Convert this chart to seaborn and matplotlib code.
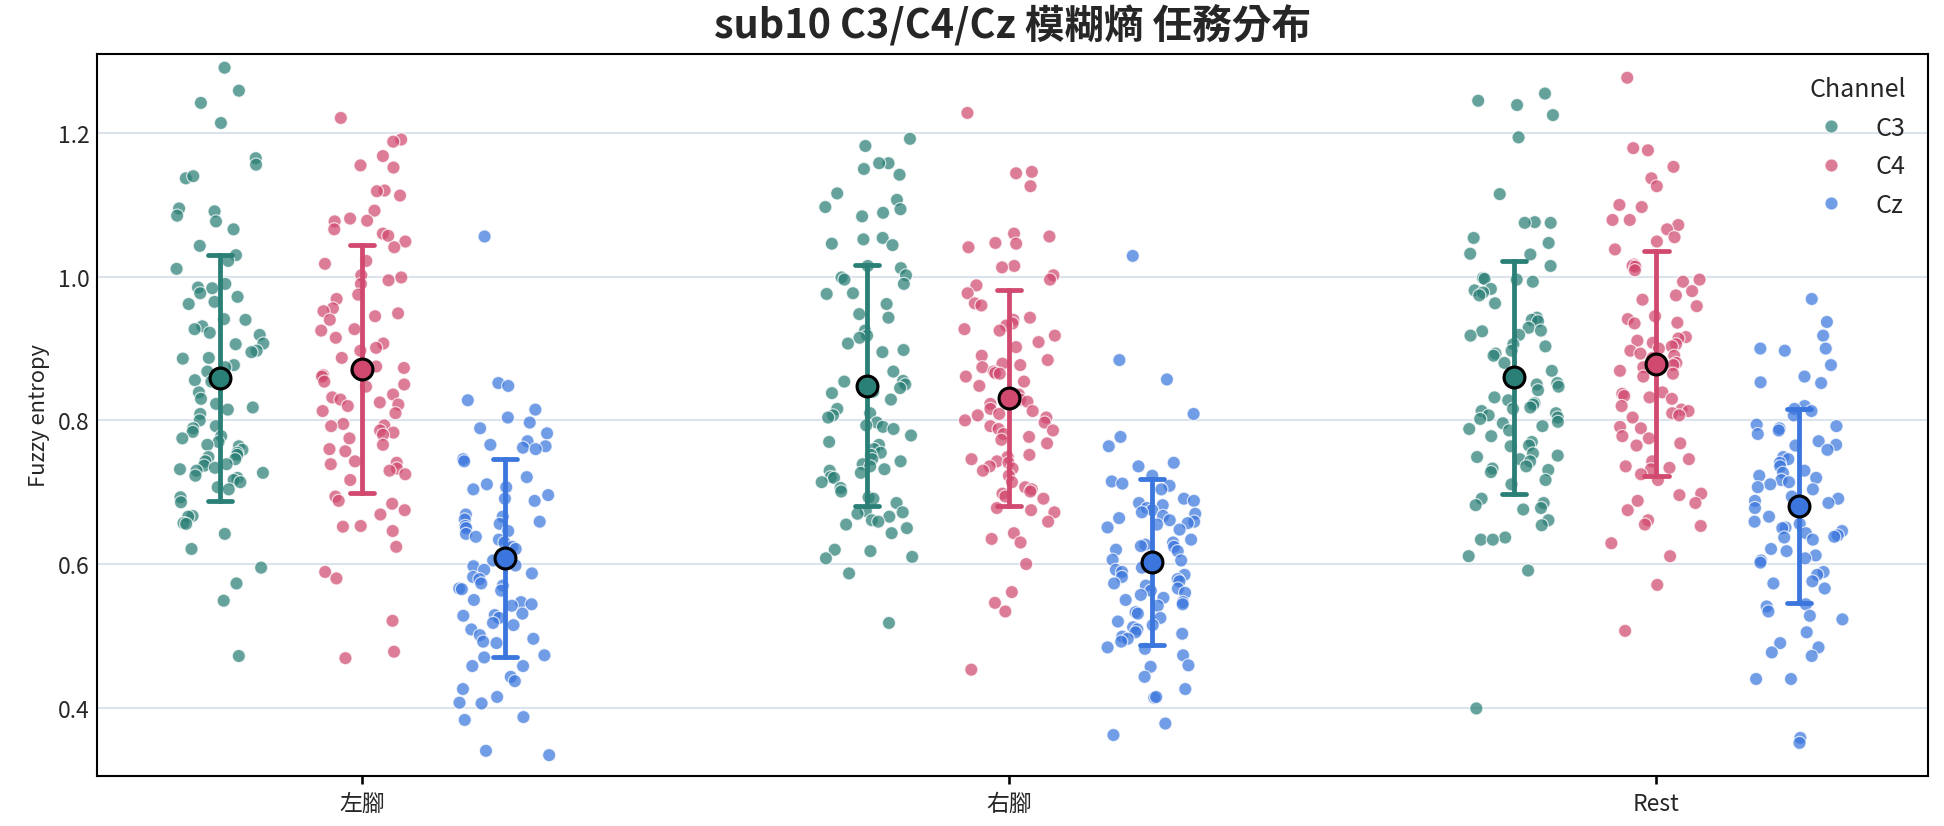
import numpy as np
import pandas as pd
import matplotlib
matplotlib.use("Agg")
import matplotlib.pyplot as plt
import seaborn as sns

# ---------------- data ----------------
tasks = ["左腳", "右腳", "Rest"]
channels = ["C3", "C4", "Cz"]

left_c3 = [1.291, 1.259, 1.242, 1.214, 1.165, 1.156, 1.137, 1.140, 1.095, 1.091, 1.085, 1.077, 1.066,
           1.043, 1.030, 1.022, 1.011, 0.990, 0.985, 0.984, 0.977, 0.972, 0.965, 0.962, 0.941, 0.940,
           0.931, 0.927, 0.922, 0.919, 0.907, 0.906, 0.897, 0.895, 0.887, 0.886, 0.877, 0.874, 0.868,
           0.856, 0.854, 0.852, 0.839, 0.830, 0.823, 0.818, 0.815, 0.809, 0.800, 0.792, 0.789, 0.784,
           0.778, 0.775, 0.770, 0.766, 0.764, 0.759, 0.755, 0.752, 0.749, 0.746, 0.743, 0.739, 0.737,
           0.734, 0.732, 0.730, 0.727, 0.723, 0.720, 0.717, 0.714, 0.707, 0.704, 0.693, 0.686, 0.667,
           0.666, 0.657, 0.656, 0.642, 0.621, 0.595, 0.573, 0.549, 0.472]
left_c4 = [1.221, 1.191, 1.188, 1.168, 1.155, 1.152, 1.120, 1.119, 1.113, 1.092, 1.081, 1.078, 1.077,
           1.066, 1.060, 1.057, 1.049, 1.041, 1.022, 1.018, 1.002, 0.999, 0.995, 0.990, 0.975, 0.969,
           0.956, 0.952, 0.949, 0.945, 0.940, 0.927, 0.925, 0.915, 0.907, 0.901, 0.897, 0.887, 0.875,
           0.873, 0.868, 0.863, 0.861, 0.854, 0.850, 0.847, 0.836, 0.832, 0.829, 0.825, 0.822, 0.820,
           0.813, 0.810, 0.795, 0.793, 0.792, 0.786, 0.783, 0.780, 0.775, 0.766, 0.760, 0.757, 0.743,
           0.741, 0.739, 0.733, 0.730, 0.725, 0.717, 0.694, 0.688, 0.684, 0.675, 0.669, 0.653, 0.652,
           0.646, 0.624, 0.589, 0.580, 0.521, 0.478, 0.469]
left_cz = [1.056, 0.852, 0.848, 0.828, 0.815, 0.804, 0.797, 0.789, 0.782, 0.771, 0.766, 0.764, 0.762,
           0.760, 0.746, 0.743, 0.721, 0.711, 0.707, 0.704, 0.696, 0.691, 0.688, 0.669, 0.666, 0.662,
           0.659, 0.656, 0.653, 0.650, 0.646, 0.642, 0.638, 0.634, 0.630, 0.624, 0.621, 0.605, 0.598,
           0.597, 0.592, 0.587, 0.582, 0.579, 0.573, 0.570, 0.566, 0.565, 0.563, 0.550, 0.547, 0.544,
           0.542, 0.531, 0.529, 0.528, 0.525, 0.518, 0.515, 0.509, 0.501, 0.496, 0.492, 0.490, 0.473,
           0.470, 0.458, 0.458, 0.443, 0.437, 0.426, 0.415, 0.407, 0.406, 0.387, 0.383, 0.340, 0.334]
right_c3 = [1.192, 1.182, 1.158, 1.158, 1.150, 1.142, 1.116, 1.107, 1.097, 1.094, 1.089, 1.084, 1.054,
            1.052, 1.044, 1.046, 1.015, 1.012, 1.002, 0.999, 0.996, 0.990, 0.977, 0.976, 0.962, 0.948,
            0.943, 0.925, 0.918, 0.915, 0.907, 0.898, 0.895, 0.868, 0.855, 0.854, 0.850, 0.845, 0.842,
            0.840, 0.838, 0.829, 0.816, 0.810, 0.807, 0.804, 0.797, 0.793, 0.791, 0.788, 0.779, 0.770,
            0.766, 0.760, 0.755, 0.752, 0.746, 0.743, 0.739, 0.736, 0.732, 0.730, 0.727, 0.721, 0.720,
            0.714, 0.706, 0.701, 0.693, 0.691, 0.685, 0.674, 0.672, 0.670, 0.666, 0.661, 0.659, 0.655,
            0.650, 0.643, 0.620, 0.618, 0.610, 0.608, 0.587, 0.518]
right_c4 = [1.228, 1.146, 1.144, 1.126, 1.060, 1.056, 1.047, 1.046, 1.041, 1.015, 1.013, 1.002, 0.996,
            0.988, 0.977, 0.963, 0.960, 0.943, 0.940, 0.935, 0.932, 0.927, 0.925, 0.918, 0.909, 0.902,
            0.890, 0.884, 0.879, 0.877, 0.874, 0.868, 0.866, 0.865, 0.861, 0.854, 0.848, 0.836, 0.829,
            0.826, 0.823, 0.816, 0.813, 0.809, 0.807, 0.804, 0.800, 0.797, 0.792, 0.788, 0.786, 0.781,
            0.777, 0.773, 0.768, 0.752, 0.749, 0.746, 0.743, 0.741, 0.736, 0.733, 0.730, 0.723, 0.714,
            0.707, 0.704, 0.701, 0.698, 0.694, 0.691, 0.678, 0.675, 0.672, 0.659, 0.643, 0.635, 0.630,
            0.600, 0.561, 0.546, 0.534, 0.453]
right_cz = [1.029, 0.884, 0.857, 0.809, 0.777, 0.764, 0.741, 0.736, 0.723, 0.715, 0.712, 0.709, 0.704,
            0.691, 0.688, 0.685, 0.682, 0.678, 0.675, 0.672, 0.670, 0.667, 0.664, 0.661, 0.659, 0.657,
            0.655, 0.651, 0.648, 0.634, 0.630, 0.627, 0.625, 0.624, 0.620, 0.618, 0.610, 0.606, 0.605,
            0.595, 0.592, 0.589, 0.585, 0.582, 0.579, 0.576, 0.573, 0.570, 0.566, 0.563, 0.560, 0.557,
            0.553, 0.550, 0.547, 0.544, 0.542, 0.533, 0.531, 0.525, 0.520, 0.515, 0.512, 0.509, 0.505,
            0.503, 0.499, 0.496, 0.492, 0.484, 0.482, 0.473, 0.459, 0.457, 0.443, 0.426, 0.414, 0.415,
            0.378, 0.362]
rest_c3 = [1.255, 1.245, 1.239, 1.225, 1.194, 1.115, 1.076, 1.075, 1.075, 1.054, 1.047, 1.032, 1.031,
           1.015, 0.998, 0.996, 0.993, 0.997, 0.983, 0.981, 0.978, 0.974, 0.963, 0.943, 0.940, 0.938,
           0.929, 0.925, 0.924, 0.919, 0.918, 0.906, 0.903, 0.897, 0.893, 0.890, 0.880, 0.869, 0.852,
           0.850, 0.847, 0.842, 0.832, 0.828, 0.824, 0.822, 0.818, 0.816, 0.813, 0.810, 0.807, 0.804,
           0.802, 0.798, 0.796, 0.792, 0.788, 0.786, 0.778, 0.770, 0.765, 0.764, 0.754, 0.751, 0.749,
           0.746, 0.743, 0.736, 0.733, 0.731, 0.728, 0.717, 0.711, 0.691, 0.685, 0.682, 0.678, 0.676,
           0.661, 0.654, 0.637, 0.634, 0.634, 0.611, 0.591, 0.399]
rest_c4 = [1.277, 1.179, 1.176, 1.153, 1.137, 1.126, 1.100, 1.097, 1.079, 1.072, 1.079, 1.066, 1.055,
           1.049, 1.038, 1.017, 1.015, 1.014, 1.009, 0.996, 0.993, 0.980, 0.974, 0.968, 0.959, 0.945,
           0.941, 0.936, 0.935, 0.916, 0.914, 0.911, 0.908, 0.906, 0.903, 0.900, 0.897, 0.893, 0.890,
           0.887, 0.880, 0.877, 0.874, 0.869, 0.865, 0.861, 0.839, 0.837, 0.834, 0.832, 0.830, 0.820,
           0.815, 0.813, 0.810, 0.807, 0.804, 0.791, 0.789, 0.778, 0.775, 0.768, 0.765, 0.746, 0.743,
           0.736, 0.734, 0.732, 0.725, 0.717, 0.698, 0.696, 0.688, 0.685, 0.675, 0.661, 0.655, 0.653,
           0.629, 0.611, 0.571, 0.507]
rest_cz = [0.969, 0.937, 0.918, 0.900, 0.900, 0.897, 0.877, 0.861, 0.853, 0.852, 0.820, 0.816, 0.813,
           0.807, 0.794, 0.792, 0.789, 0.786, 0.781, 0.771, 0.766, 0.765, 0.759, 0.749, 0.746, 0.741,
           0.736, 0.730, 0.727, 0.723, 0.720, 0.717, 0.714, 0.711, 0.707, 0.704, 0.694, 0.691, 0.688,
           0.685, 0.678, 0.666, 0.659, 0.656, 0.651, 0.650, 0.646, 0.643, 0.640, 0.638, 0.637, 0.634,
           0.621, 0.618, 0.612, 0.608, 0.605, 0.602, 0.589, 0.585, 0.576, 0.573, 0.566, 0.544, 0.541,
           0.534, 0.528, 0.523, 0.505, 0.490, 0.484, 0.477, 0.472, 0.440, 0.440, 0.358, 0.351]

groups = {
    ("左腳", "C3"): left_c3, ("左腳", "C4"): left_c4, ("左腳", "Cz"): left_cz,
    ("右腳", "C3"): right_c3, ("右腳", "C4"): right_c4, ("右腳", "Cz"): right_cz,
    ("Rest", "C3"): rest_c3, ("Rest", "C4"): rest_c4, ("Rest", "Cz"): rest_cz,
}

# ---------------- styling ----------------
palette = {"C3": "#2a7f76", "C4": "#d1496f", "Cz": "#3a76dd"}
task_index = {t: i for i, t in enumerate(tasks)}
hue_offset = {"C3": -0.22, "C4": 0.0, "Cz": 0.22}

rows = []
for (task, ch), vals in groups.items():
    for v in vals:
        rows.append({"Task": task, "Channel": ch, "Fuzzy entropy": v,
                     "pos": round(task_index[task] + hue_offset[ch], 3)})
df = pd.DataFrame(rows)

sns.set_theme(style="ticks")
plt.rcParams["font.family"] = ["Noto Sans CJK TC", "DejaVu Sans"]
plt.rcParams["axes.unicode_minus"] = False

fig = plt.figure(figsize=(12.96, 5.513), dpi=150)
ax = fig.add_axes([0.0499, 0.0605, 0.942, 0.873])

np.random.seed(3)
sns.stripplot(data=df, x="pos", y="Fuzzy entropy", hue="Channel", hue_order=channels,
              palette=palette, native_scale=True, jitter=0.32, size=6.3, alpha=0.72,
              edgecolor="white", linewidth=0.6, ax=ax, zorder=2)

sns.pointplot(data=df, x="pos", y="Fuzzy entropy", hue="Channel", hue_order=channels,
              palette=palette, native_scale=True, errorbar="sd", linestyle="none",
              markers="o", markersize=10, markeredgecolor="black", markeredgewidth=1.5,
              capsize=0.17, err_kws={"linewidth": 2.3}, legend=False, ax=ax)
for ln in ax.lines:
    if ln.get_marker() == "o":
        ln.set_zorder(6)

ax.set_xlim(-0.41, 2.42)
ax.set_ylim(0.305, 1.31)
ax.set_xticks(range(len(tasks)))
ax.set_xticklabels(tasks, fontsize=11)
ax.set_yticks([0.4, 0.6, 0.8, 1.0, 1.2])
ax.set_yticklabels(["0.4", "0.6", "0.8", "1.0", "1.2"], fontsize=11)
ax.set_xlabel("")
ax.set_ylabel("Fuzzy entropy", fontsize=10.5)
ax.yaxis.grid(True, color="#dbe4ec", linewidth=1.0)
ax.set_axisbelow(True)
for sp in ax.spines.values():
    sp.set_visible(True)
    sp.set_color("black")
    sp.set_linewidth(1.0)
ax.tick_params(axis="y", length=0)
ax.tick_params(axis="x", length=4, color="black")

ax.set_title("sub10 C3/C4/Cz 模糊熵 任務分布", fontsize=19, fontweight="bold", pad=8)

leg = ax.legend(title="Channel", loc="upper right", frameon=False, fontsize=12,
                title_fontsize=12, markerscale=1.0, alignment="right")

fig.savefig("out.png", dpi=150)
